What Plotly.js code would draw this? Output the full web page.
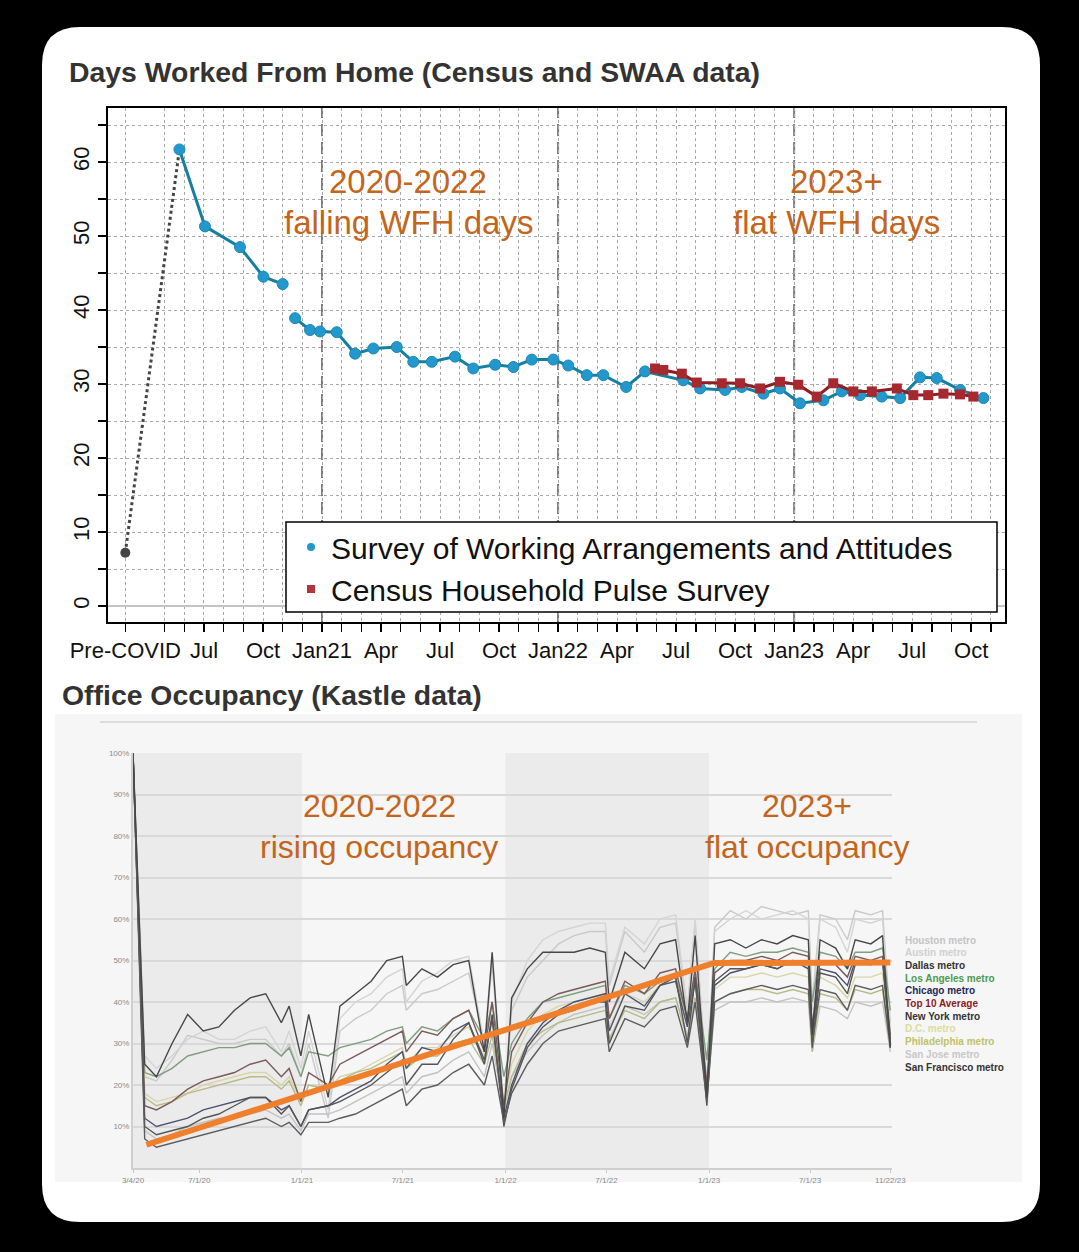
<!DOCTYPE html>
<html>
<head>
<meta charset="utf-8">
<script src="https://cdn.plot.ly/plotly-3.0.1.min.js"></script>
<style>html,body{margin:0;padding:0;background:#000;}#chart{width:1079px;height:1252px;}</style>
</head>
<body>
<div id="chart"></div>
<script>
// ---------- Top chart data (months since Jan 2020; Jan 2020 = 0) ----------
const preCovidMonth = 2;
const preCovidValue = 7.2;
const swaaMonths = [4.75, 6.05, 7.83, 9.02, 10.0, null, 10.63, 11.39, 11.9, 12.75, 13.68, 14.61, 15.8, 16.64, 17.58, 18.76, 19.69, 20.8, 21.73, 22.66, 23.76, 24.52, 25.46, 26.3, 27.46, 28.42, 30.37, 31.22, 32.49, 33.34, 34.44, 35.28, 36.3, 37.49, 38.42, 39.35, 40.45, 41.39, 42.4, 43.25, 44.44, 45.62];
const swaaValues = [61.7, 51.3, 48.5, 44.5, 43.5, null, 38.9, 37.3, 37.1, 37.0, 34.1, 34.8, 35.0, 33.0, 33.0, 33.7, 32.1, 32.6, 32.3, 33.3, 33.3, 32.5, 31.2, 31.2, 29.6, 31.7, 30.5, 29.4, 29.2, 29.6, 28.7, 29.4, 27.4, 27.8, 29.0, 28.5, 28.3, 28.1, 30.9, 30.8, 29.2, 28.1];
const censusMonths = [28.93, 29.35, 30.29, 31.05, 32.32, 33.25, 34.27, 35.28, 36.21, 37.15, 37.99, 39.01, 39.95, 41.22, 42.06, 42.82, 43.59, 44.43, 45.11];
const censusValues = [32.1, 31.9, 31.4, 30.2, 30.1, 30.1, 29.4, 30.3, 29.9, 28.3, 30.1, 29.0, 29.0, 29.4, 28.5, 28.5, 28.7, 28.6, 28.3];
const wfhTickMonths = [2, 4, 5, 6, 7, 8, 9, 10, 11, 12, 13, 14, 15, 16, 17, 18, 19, 20, 21, 22, 23, 24, 25, 26, 27, 28, 29, 30, 31, 32, 33, 34, 35, 36, 37, 38, 39, 40, 41, 42, 43, 44, 45, 46];
const wfhLabelMonths = [2, 6, 9, 12, 15, 18, 21, 24, 27, 30, 33, 36, 39, 42, 45];
const wfhLabelText = ['Pre-COVID', 'Jul', 'Oct', 'Jan21', 'Apr', 'Jul', 'Oct', 'Jan22', 'Apr', 'Jul', 'Oct', 'Jan23', 'Apr', 'Jul', 'Oct'];
const wfhYTicks = [0, 5, 10, 15, 20, 25, 30, 35, 40, 45, 50, 55, 60, 65];
const eraBreakMonths = [12, 24, 36];
const wfhLegendNames = ['Survey of Working Arrangements and Attitudes', 'Census Household Pulse Survey'];

// ---------- Bottom chart data (Kastle weekly occupancy, % of pre-COVID) ----------
const kastleDates = ['2020-03-04','2020-03-25','2020-04-15','2020-05-13','2020-06-10','2020-07-08','2020-08-05','2020-09-02','2020-09-30','2020-10-28','2020-11-25','2020-12-09','2020-12-30','2021-01-13','2021-02-17','2021-03-10','2021-04-07','2021-05-05','2021-06-02','2021-06-30','2021-07-07','2021-08-04','2021-09-01','2021-09-29','2021-10-27','2021-11-24','2021-12-08','2021-12-29','2022-01-12','2022-02-09','2022-03-09','2022-04-06','2022-05-04','2022-06-01','2022-06-29','2022-07-06','2022-08-03','2022-09-07','2022-10-05','2022-11-02','2022-11-23','2022-12-07','2022-12-28','2023-01-11','2023-02-08','2023-03-08','2023-04-05','2023-05-03','2023-05-31','2023-06-28','2023-07-05','2023-07-19','2023-08-16','2023-09-06','2023-09-20','2023-10-18','2023-11-08','2023-11-22'];
const houston = [100,22,21,26,32,31,30,30,31,31,27,30,22,30,12,33,36,38,42,44,38,42,43,45,47,30,49,14,38,46,50,54,56,57,57,44,57,52,58,59,38,59,20,58,62,60,63,62,61,62,40,61,60,55,62,61,62,35];
const austin = [100,27,24,27,31,33,31,31,33,34,28,33,24,33,14,36,40,42,46,48,40,45,47,50,51,30,52,15,40,50,55,57,58,59,59,45,58,54,60,61,38,60,18,57,60,62,60,61,62,60,38,60,58,52,60,59,60,33];
const dallas = [100,25,22,30,37,33,34,38,41,42,35,39,27,37,17,39,42,45,50,51,44,48,46,49,50,28,52,12,41,48,52,52,52,53,52,40,52,48,54,55,35,56,17,54,55,53,55,54,56,55,32,55,53,48,55,54,56,29];
const losAngeles = [100,23,22,24,27,28,29,29,30,30,27,29,22,28,27,29,30,31,33,34,30,34,33,36,38,31,40,22,30,36,40,41,42,43,44,36,44,42,45,46,36,47,26,48,52,51,52,52,53,52,40,52,51,48,52,52,53,38];
const chicago = [100,12,10,11,12,14,15,16,17,17,14,15,10,14,15,17,19,21,25,28,24,29,28,33,35,26,36,12,20,30,35,38,40,41,42,33,42,39,44,45,34,45,18,44,47,48,49,48,50,49,32,48,47,44,50,49,50,31];
const top10Average = [100,15,14,16,19,21,22,23,25,26,22,24,16,23,20,25,27,29,31,33,28,33,32,36,38,28,40,15,28,35,40,42,43,44,45,36,45,42,47,48,36,48,20,47,50,50,51,50,52,51,34,50,49,46,51,50,51,32];
const newYork = [100,10,8,9,10,12,13,15,17,17,13,15,10,14,15,16,18,20,23,26,20,25,25,31,35,25,37,10,19,29,34,37,38,40,40,30,39,38,44,46,30,46,15,45,48,48,49,48,50,48,29,47,46,42,49,49,50,30];
const washingtonDC = [100,18,16,17,18,20,21,22,23,23,20,22,16,20,19,22,23,25,27,29,25,29,29,32,34,27,35,16,25,33,37,39,40,41,42,34,42,40,44,45,34,45,20,43,46,46,47,46,47,46,30,46,44,41,46,46,47,30];
const philadelphia = [100,17,15,16,18,19,20,21,22,22,19,21,15,20,19,21,23,24,26,28,24,27,27,30,31,25,32,15,22,30,33,35,36,37,38,31,38,36,40,41,31,41,19,40,42,43,43,42,43,42,28,42,41,38,43,42,43,29];
const sanJose = [100,9,7,8,10,11,12,12,13,14,12,13,9,13,13,14,16,18,20,22,18,22,23,26,28,22,30,14,22,28,32,35,37,38,39,31,39,37,40,41,32,41,17,38,40,40,41,40,41,40,28,39,38,36,40,39,40,28];
const sanFrancisco = [100,7,5,6,7,8,9,10,11,12,10,11,8,11,11,12,13,15,17,19,15,19,20,23,25,20,27,11,18,25,30,33,34,35,36,28,36,34,38,39,29,40,16,40,42,43,44,43,44,43,30,43,42,38,44,43,44,29];
const trendDates = ['2020-03-28', '2022-11-20', '2023-01-10', '2023-11-22'];
const trendValues = [5.6, 47.5, 49.4, 49.5];
const kastleTickDates = ['2020-03-04','2020-07-01','2021-01-01','2021-07-01','2022-01-01','2022-07-01','2023-01-01','2023-07-01','2023-11-22'];
const kastleTickLabels = ['3/4/20','7/1/20','1/1/21','7/1/21','1/1/22','7/1/22','1/1/23','7/1/23','11/22/23'];
const kastleYTicks = [10, 20, 30, 40, 50, 60, 70, 80, 90, 100];
const shadedYears = [['2020-03-04', '2021-01-01'], ['2022-01-01', '2023-01-01']];
const kastleLegend = ['Houston metro','Austin metro','Dallas metro','Los Angeles metro','Chicago metro','Top 10 Average','New York metro','D.C. metro','Philadelphia metro','San Jose metro','San Francisco metro'];

// ---------- helpers: pixel -> paper ----------
const W = 1079, H = 1252;
const px = v => v / W;
const py = v => 1 - v / H;
const FONT = 'Liberation Sans, Arial, Helvetica, sans-serif';
const ORANGE_TXT = '#c4651c';

// ---------- traces ----------
const traces = [];
traces.push({x: [preCovidMonth, swaaMonths[0]], y: [preCovidValue, swaaValues[0]], mode: 'lines',
  line: {color: '#444', width: 3, dash: 'dot'}, showlegend: false, hoverinfo: 'skip', xaxis: 'x', yaxis: 'y'});
traces.push({x: [preCovidMonth], y: [preCovidValue], mode: 'markers',
  marker: {color: '#444', size: 10}, showlegend: false, xaxis: 'x', yaxis: 'y'});
traces.push({x: swaaMonths, y: swaaValues, mode: 'lines+markers', connectgaps: false,
  line: {color: '#167f9f', width: 3}, marker: {color: '#2298cc', size: 11, line: {color: '#1b88b3', width: 1}},
  showlegend: false, xaxis: 'x', yaxis: 'y'});
traces.push({x: censusMonths, y: censusValues, mode: 'lines+markers',
  line: {color: '#8e1d24', width: 3}, marker: {color: '#a8282f', size: 10, symbol: 'square'},
  showlegend: false, xaxis: 'x', yaxis: 'y'});
traces.push({x: [null], y: [null], mode: 'markers', name: wfhLegendNames[0],
  marker: {color: '#2298cc', size: 8, symbol: 'circle'}, xaxis: 'x', yaxis: 'y', showlegend: true});
traces.push({x: [null], y: [null], mode: 'markers', name: wfhLegendNames[1],
  marker: {color: '#b2343c', size: 8, symbol: 'square'}, xaxis: 'x', yaxis: 'y', showlegend: true});

const metroSeries = [
  {y: houston, c: '#c9c9c9'},
  {y: austin, c: '#d4d4d4'},
  {y: sanJose, c: '#c2c2c2'},
  {y: washingtonDC, c: '#d8d6a6'},
  {y: philadelphia, c: '#b7bb86'},
  {y: losAngeles, c: '#7e9e7e'},
  {y: top10Average, c: '#7a5a5a'},
  {y: chicago, c: '#4d5270'},
  {y: newYork, c: '#555555'},
  {y: sanFrancisco, c: '#5c5c5c'},
  {y: dallas, c: '#474747'}
];
metroSeries.forEach(s => traces.push({x: kastleDates, y: s.y, mode: 'lines',
  line: {color: s.c, width: 1.4}, showlegend: false, hoverinfo: 'skip', xaxis: 'x2', yaxis: 'y2'}));
traces.push({x: trendDates, y: trendValues, mode: 'lines', line: {color: '#f07f2c', width: 6},
  showlegend: false, hoverinfo: 'skip', xaxis: 'x2', yaxis: 'y2'});

// ---------- shapes ----------
const cx0 = px(42), cx1 = px(1040), cyT = py(27), cyB = py(1222);
const rx = 38 / W, ry = 38 / H;
const cardPath = `M ${cx0 + rx},${cyT} L ${cx1 - rx},${cyT} Q ${cx1},${cyT} ${cx1},${cyT - ry} L ${cx1},${cyB + ry} Q ${cx1},${cyB} ${cx1 - rx},${cyB} L ${cx0 + rx},${cyB} Q ${cx0},${cyB} ${cx0},${cyB + ry} L ${cx0},${cyT - ry} Q ${cx0},${cyT} ${cx0 + rx},${cyT} Z`;
const topY0 = py(622), topY1 = py(108);
const shapes = [
  {type: 'path', xref: 'paper', yref: 'paper', path: cardPath, fillcolor: '#ffffff', line: {width: 0}, layer: 'below'},
  {type: 'rect', xref: 'paper', yref: 'paper', x0: px(55), x1: px(1022), y0: py(1182), y1: py(714), fillcolor: '#f6f6f6', line: {width: 0}, layer: 'below'},
  {type: 'line', xref: 'paper', yref: 'paper', x0: px(100), x1: px(977), y0: py(722), y1: py(722), line: {color: '#dcdcdc', width: 2}, layer: 'below'}
];
shadedYears.forEach(b => shapes.push({type: 'rect', xref: 'x2', yref: 'y2', x0: b[0], x1: b[1], y0: 0, y1: 100,
  fillcolor: '#ebebeb', line: {width: 0}, layer: 'below'}));
eraBreakMonths.forEach(m => shapes.push({type: 'line', xref: 'x', yref: 'paper', x0: m, x1: m, y0: topY0, y1: topY1,
  line: {color: '#7a7a7a', width: 2, dash: '12px,6px'}, layer: 'below'}));
shapes.push({type: 'rect', xref: 'paper', yref: 'paper', x0: px(286), x1: px(997), y0: py(612), y1: py(522),
  fillcolor: '#ffffff', line: {color: '#000', width: 1.5}, layer: 'above'});

// ---------- annotations ----------
const annotations = [
  {text: '<b>Days Worked From Home (Census and SWAA data)</b>', x: px(67), y: py(72), xanchor: 'left', yanchor: 'middle',
   font: {size: 28.4, color: '#333', family: FONT}},
  {text: '<b>Office Occupancy (Kastle data)</b>', x: px(60), y: py(695), xanchor: 'left', yanchor: 'middle',
   font: {size: 28.4, color: '#333', family: FONT}},
  {text: '2020-2022', x: px(408), y: py(182), font: {size: 33, color: ORANGE_TXT, family: FONT}},
  {text: 'falling WFH days', x: px(408), y: py(222), font: {size: 33, color: ORANGE_TXT, family: FONT}},
  {text: '2023+', x: px(836), y: py(182), font: {size: 33, color: ORANGE_TXT, family: FONT}},
  {text: 'flat WFH days', x: px(836), y: py(222), font: {size: 33, color: ORANGE_TXT, family: FONT}},
  {text: '2020-2022', x: px(379), y: py(806), font: {size: 32, color: ORANGE_TXT, family: FONT}},
  {text: 'rising occupancy', x: px(379), y: py(847), font: {size: 32, color: ORANGE_TXT, family: FONT}},
  {text: '2023+', x: px(807), y: py(806), font: {size: 32, color: ORANGE_TXT, family: FONT}},
  {text: 'flat occupancy', x: px(807), y: py(847), font: {size: 32, color: ORANGE_TXT, family: FONT}}
].map(a => Object.assign({xref: 'paper', yref: 'paper', showarrow: false, xanchor: 'center', yanchor: 'middle'}, a));
const kastleLegendColors = ['#c4c4c4', '#d0d0d0', '#333333', '#4f9a4f', '#23285e', '#8b1a1a', '#333333', '#dedc9c', '#bfc266', '#c8c8c8', '#333333'];
kastleLegend.forEach((name, i) => annotations.push({text: '<b>' + name + '</b>', xref: 'paper', yref: 'paper',
  x: px(903), y: py(940 + i * 12.7), xanchor: 'left', yanchor: 'middle', showarrow: false,
  font: {size: 10, color: kastleLegendColors[i], family: FONT}}));

// ---------- layout ----------
const layout = {
  width: W, height: H,
  margin: {l: 0, r: 0, t: 0, b: 0},
  paper_bgcolor: '#000000',
  plot_bgcolor: 'rgba(0,0,0,0)',
  font: {family: FONT, color: '#111'},
  showlegend: true,
  legend: {x: px(291), y: py(521), xanchor: 'left', yanchor: 'top', bgcolor: 'rgba(0,0,0,0)', borderwidth: 0,
    font: {size: 30, color: '#111', family: FONT}, tracegroupgap: 0},
  xaxis: {
    domain: [px(108), px(1005)], range: [1.12, 46.72], anchor: 'y',
    tickmode: 'array', tickvals: wfhTickMonths,
    ticktext: wfhTickMonths.map(m => { const k = wfhLabelMonths.indexOf(m); return k >= 0 ? wfhLabelText[k] : ''; }),
    ticks: 'outside', ticklen: 8, tickwidth: 1.5, tickcolor: '#000',
    tickfont: {size: 22, color: '#111'}, tickangle: 0,
    showgrid: true, gridcolor: '#a8a8a8', griddash: 'dot', gridwidth: 1,
    showline: true, linecolor: '#000', linewidth: 2, mirror: true, zeroline: false
  },
  yaxis: {
    domain: [topY0, topY1], range: [-2.16, 67.3], anchor: 'x',
    tickmode: 'array', tickvals: wfhYTicks, ticktext: wfhYTicks.map(v => v % 10 === 0 ? String(v) : ''),
    tickangle: -90, ticks: 'outside', ticklen: 8, tickwidth: 1.5, tickcolor: '#000',
    tickfont: {size: 22, color: '#111'},
    showgrid: true, gridcolor: '#a8a8a8', griddash: 'dot', gridwidth: 1,
    zeroline: true, zerolinecolor: '#c4c4c4', zerolinewidth: 2,
    showline: true, linecolor: '#000', linewidth: 2, mirror: true
  },
  xaxis2: {
    type: 'date', domain: [px(133), px(892)], range: ['2020-03-04', '2023-11-25'], anchor: 'y2',
    tickmode: 'array', tickvals: kastleTickDates, ticktext: kastleTickLabels,
    ticks: 'outside', ticklen: 3, tickcolor: '#c8c8c8', tickfont: {size: 8, color: '#8a8a8a'},
    showgrid: false, zeroline: false, showline: true, linecolor: '#cfcfcf', linewidth: 2
  },
  yaxis2: {
    domain: [py(1168), py(753)], range: [0, 100], anchor: 'x2',
    tickmode: 'array', tickvals: kastleYTicks, ticktext: kastleYTicks.map(v => v + '%'), ticks: '',
    tickfont: {size: 8, color: '#8a8a8a'},
    showgrid: true, gridcolor: '#d9d9d9', gridwidth: 2, zeroline: false,
    showline: true, linecolor: '#cfcfcf', linewidth: 2
  },
  shapes: shapes,
  annotations: annotations
};

Plotly.newPlot('chart', traces, layout, {staticPlot: true, displayModeBar: false});
</script>
</body>
</html>
